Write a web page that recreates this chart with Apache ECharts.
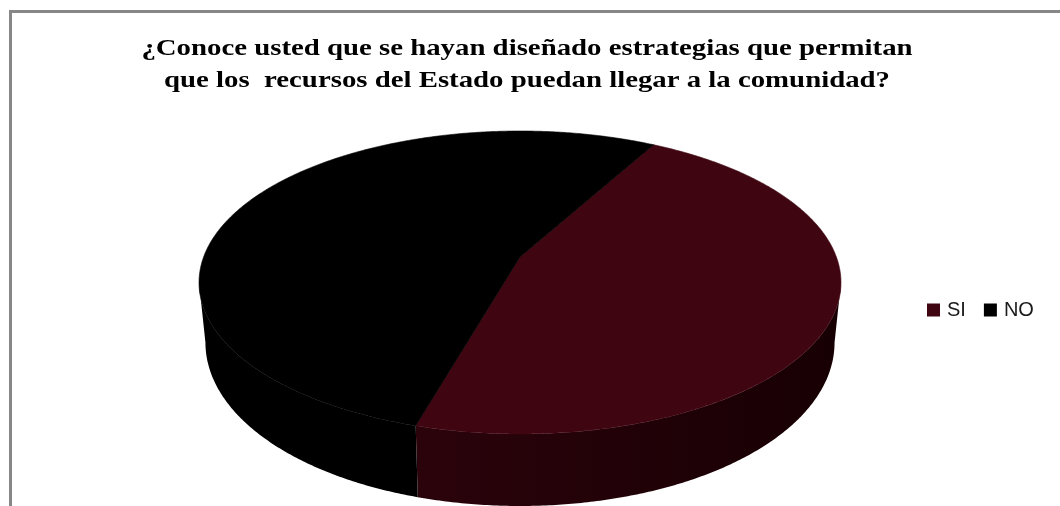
<!DOCTYPE html>
<html>
<head>
<meta charset="utf-8">
<script src="https://cdn.jsdelivr.net/npm/echarts@6/dist/echarts.min.js"></script>
<style>
html,body{margin:0;padding:0;background:#fff;}
#chart{width:1060px;height:506px;}
</style>
</head>
<body>
<div id="chart"></div>
<script>
// ---- data ----
const categories = ['SI', 'NO'];
const values = [46.4, 53.6];
const titleLines = [
  '¿Conoce usted que se hayan diseñado estrategias que permitan',
  'que los  recursos del Estado puedan llegar a la comunidad?'
];

// ---- 3D pie projection (layout constants) ----
const CX = 520, CY = 257, R = 316.4, A = 147.2, K = -0.1683;
const D0 = 57.5, D1 = 14.5, BX = 0.98;
const START = 29; // degrees clockwise from back
const SIL_L = 99.7, SIL_R = 260.3; // silhouette angles

function proj(deg, h) {
  const t = deg * Math.PI / 180;
  const u = Math.sin(t), v = -Math.cos(t);
  const s = 1 / (1 + K * v);
  const xs = h ? BX : 1;
  const dy = h ? (D0 + D1 * v) : 0;
  return [CX + R * u * s * xs, CY + A * v * s + dy];
}

const total = values.reduce((a, b) => a + b, 0);
function sliceRange(i) {
  let before = 0;
  for (let j = 0; j < i; j++) before += values[j];
  const a = START + before / total * 360;
  const b = a + values[i] / total * 360;
  return [a, b];
}

const topColors = ['#3f0612', '#000000'];
const wallFills = [
  new echarts.graphic.LinearGradient(0, 0, 1, 0, [
    {offset: 0, color: '#2b030b'}, {offset: 1, color: '#170003'}
  ]),
  '#000000'
];

function makeRender(i) {
  return function (params, api) {
    const [a, b] = sliceRange(i);
    const children = [];
    const pts = [[CX, CY]];
    for (let d = a; d < b; d += 0.5) pts.push(proj(d, 0));
    pts.push(proj(b, 0));
    children.push({
      type: 'polygon', z2: 10,
      shape: {points: pts},
      style: {fill: topColors[i], stroke: topColors[i], lineWidth: 0.6}
    });
    const ranges = [[a, b], [a - 360, b - 360], [a + 360, b + 360]];
    ranges.forEach(([ra, rb]) => {
      const s0 = Math.max(ra, SIL_L), s1 = Math.min(rb, SIL_R);
      if (s1 <= s0) return;
      const wp = [];
      for (let d = s0; d < s1; d += 0.5) wp.push(proj(d, 0));
      wp.push(proj(s1, 0));
      for (let d = s1; d > s0; d -= 0.5) wp.push(proj(d, 1));
      wp.push(proj(s0, 1));
      children.push({
        type: 'polygon', z2: 1,
        shape: {points: wp},
        style: {fill: wallFills[i], stroke: null}
      });
    });
    return {type: 'group', children: children};
  };
}

const TITLE_X = 527, TITLE_Y = [48.5, 80.5], TITLE_SX = 1.2;

const chart = echarts.init(document.getElementById('chart'), null, {renderer: 'canvas'});
chart.setOption({
  animation: false,
  backgroundColor: '#ffffff',
  color: topColors,
  legend: {
    data: categories,
    left: 922,
    top: 295,
    icon: 'rect',
    itemWidth: 13,
    itemHeight: 13,
    itemGap: 18,
    textStyle: {fontFamily: 'Liberation Sans', fontSize: 20, color: '#1a1a1a', padding: [0, 0, 0, 2]}
  },
  graphic: [{
    type: 'rect',
    shape: {x: 10.5, y: 11.5, width: 1200, height: 700},
    style: {fill: null, stroke: '#878787', lineWidth: 3},
    silent: true
  }].concat(titleLines.map((line, k) => ({
    type: 'text',
    x: TITLE_X,
    y: TITLE_Y[k],
    scaleX: TITLE_SX,
    silent: true,
    style: {
      text: line,
      font: 'bold 24px "Liberation Serif"',
      fill: '#000',
      align: 'center',
      verticalAlign: 'middle'
    }
  }))),
  series: categories.map((name, i) => ({
    type: 'custom',
    name: name,
    coordinateSystem: 'none',
    itemStyle: {color: topColors[i]},
    renderItem: makeRender(i),
    data: [[values[i]]]
  }))
});
</script>
</body>
</html>
